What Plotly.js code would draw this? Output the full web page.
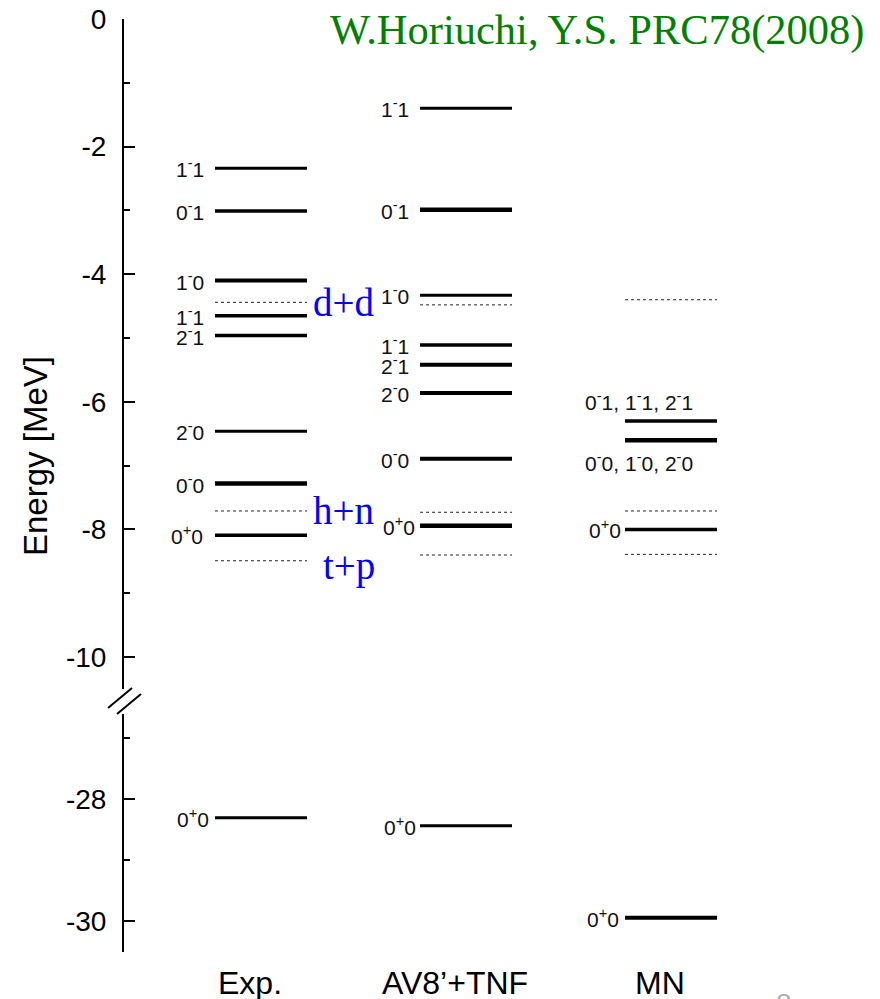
<!DOCTYPE html>
<html>
<head>
<meta charset="utf-8">
<script src="https://cdn.plot.ly/plotly-3.0.1.min.js"></script>
<style>html,body{margin:0;padding:0;background:#fff}</style>
</head>
<body>
<div id="chart" style="width:880px;height:999px"></div>
<script>
// ---- 4He level scheme: energies in MeV ----
const columns = ['Exp.', 'AV8\u2019+TNF', 'MN'];

const expLabels   = ['1-1', '0-1', '1-0', '1-1', '2-1', '2-0', '0-0', '0+0'];
const expEnergies = [-2.34, -3.01, -4.10, -4.65, -4.96, -6.46, -7.28, -8.09];
const expGround   = -28.30;
const expThresholds = [-4.44, -7.71, -8.49];

const av8Labels   = ['1-1', '0-1', '1-0', '1-1', '2-1', '2-0', '0-0', '0+0'];
const av8Energies = [-1.40, -2.99, -4.33, -5.11, -5.42, -5.86, -6.89, -7.94];
const av8Ground   = -28.43;
const av8Thresholds = [-4.48, -7.73, -8.40];

const mnLabels   = ['0-1, 1-1, 2-1', '0-0, 1-0, 2-0', '0+0'];
const mnEnergies = [-6.30, -6.60, -8.00];
const mnGround   = -29.94;
const mnThresholds = [-4.40, -7.71, -8.39];

const groundLabel = '0+0';
const thresholdNames = ['d+d', 'h+n', 't+p'];

const upperTickVals = [0, -2, -4, -6, -8, -10];
const upperTickText = ['0', '-2', '-4', '-6', '-8', '-10'];
const lowerTickVals = [-28, -30];
const lowerTickText = ['-28', '-30'];

const citation = 'W.Horiuchi, Y.S. PRC78(2008)';
const yTitle = 'Energy [MeV]';
const pageNo = '8';

// ---- styles ----
const expWidths = [3, 3.5, 4, 3.5, 3.5, 3, 4.5, 3.5];
const av8Widths = [3, 4.5, 3, 3.5, 4, 4, 4, 4.5];
const mnWidths  = [3.5, 4.5, 3.5];
const groundWidths = [3, 3, 4];
// gap (px) between a level label and its line
const expGaps = [-9, -9, -9, -9, -9, -9, -9, -10];
const av8Gaps = [-9, -9, -9, -9, -9, -9, -9, -3];
const groundGaps = [-4, -2, -4];

const SANS = 'Liberation Sans, Arial, sans-serif';
const SERIF = 'Liberation Serif, Times New Roman, serif';

// ---- geometry (pixels) ----
const W = 880, H = 999;
const M = {l: 124, r: 0, t: 19, b: 47};
const plotW = W - M.l - M.r, plotH = H - M.t - M.b;
const colStep = 205;            // px between column centres
const firstCol = 261;           // px, centre of first column
const x0 = 1 - (firstCol - M.l) / colStep;
const xRange = [x0, x0 + plotW / colStep];
const halfW = 46 / colStep;     // half length of a level line
const upperTopPx = 19, upperBotPx = 689;
const lowerTopPx = 714, lowerBotPx = 952;
const py = p => (H - M.b - p) / plotH;   // pixel row -> paper y
const px = p => (p - M.l) / plotW;       // pixel col -> paper x

const fmt = s => s.replace(/(\d)([+-])(\d)/g, '$1<sup>$2</sup>$3');

const traces = [];
const annotations = [];

function level(col, e, w, yaxis) {
  traces.push({
    x: [col - halfW, col + halfW], y: [e, e],
    xaxis: 'x', yaxis: yaxis, mode: 'lines',
    line: {color: '#000', width: w},
    hoverinfo: 'skip', showlegend: false
  });
}
function threshold(col, e) {
  traces.push({
    x: [col - halfW, col + halfW], y: [e, e],
    xaxis: 'x', yaxis: 'y', mode: 'lines',
    line: {color: '#222', width: 1, dash: 'dot'},
    hoverinfo: 'skip', showlegend: false
  });
}
function label(col, e, text, yref, opts) {
  annotations.push(Object.assign({
    x: col - halfW, y: e, xref: 'x', yref: yref,
    text: fmt(text), showarrow: false,
    xanchor: 'right', yanchor: 'middle', xshift: -9,
    font: {family: SANS, size: 21, color: '#111'}
  }, opts || {}));
}

// Exp. column
expEnergies.forEach((e, i) => { level(1, e, expWidths[i], 'y'); label(1, e, expLabels[i], 'y', {xshift: expGaps[i]}); });
expThresholds.forEach(e => threshold(1, e));
level(1, expGround, groundWidths[0], 'y2'); label(1, expGround, groundLabel, 'y2', {xshift: groundGaps[0]});

// AV8'+TNF column
av8Energies.forEach((e, i) => { level(2, e, av8Widths[i], 'y'); label(2, e, av8Labels[i], 'y', {xshift: av8Gaps[i]}); });
av8Thresholds.forEach(e => threshold(2, e));
level(2, av8Ground, groundWidths[1], 'y2'); label(2, av8Ground, groundLabel, 'y2', {xshift: groundGaps[1]});

// MN column: the two negative-parity multiplets are labelled above / below their lines
const mnLabelPlace = [
  {xanchor: 'left', xshift: -42, yshift: 20},
  {xanchor: 'left', xshift: -42, yshift: -22},
  {xshift: -2}
];
mnEnergies.forEach((e, i) => { level(3, e, mnWidths[i], 'y'); label(3, e, mnLabels[i], 'y', mnLabelPlace[i]); });
mnThresholds.forEach(e => threshold(3, e));
level(3, mnGround, groundWidths[2], 'y2'); label(3, mnGround, groundLabel, 'y2', {xshift: groundGaps[2]});

// threshold channel names, next to the experimental thresholds
const chanShift = [[4, 0], [4, 0], [14, -5]];
thresholdNames.forEach((t, i) => {
  annotations.push({
    x: 1 + halfW, y: expThresholds[i], xref: 'x', yref: 'y',
    text: t, showarrow: false, xanchor: 'left', yanchor: 'middle',
    xshift: chanShift[i][0], yshift: chanShift[i][1],
    font: {family: SERIF, size: 39, color: '#0000ff'}
  });
});

// column names
columns.forEach((c, i) => {
  annotations.push({
    x: i + 1, y: py(983), xref: 'x', yref: 'paper', xshift: -11,
    text: c, showarrow: false, xanchor: 'center', yanchor: 'middle',
    font: {family: SANS, size: 32, color: '#000'}
  });
});

// axis title, citation, page number
annotations.push({
  x: px(35), y: py(456), xref: 'paper', yref: 'paper', text: yTitle,
  textangle: -90, showarrow: false, xanchor: 'center', yanchor: 'middle',
  font: {family: SANS, size: 33, color: '#000'}
});
annotations.push({
  x: px(866), y: py(30), xref: 'paper', yref: 'paper', text: citation,
  showarrow: false, xanchor: 'right', yanchor: 'middle',
  font: {family: SERIF, size: 42.5, color: '#008000'}
});
annotations.push({
  x: px(784), y: py(986), xref: 'paper', yref: 'paper', text: pageNo,
  showarrow: false, xanchor: 'center', yanchor: 'top',
  font: {family: SANS, size: 28, color: '#b0b0b0'}
});

// axis break marks
const brk = [[120, 698], [129, 704]];
const shapes = brk.map(([cx, cy]) => ({
  type: 'line', xref: 'paper', yref: 'paper',
  x0: px(cx - 12), y0: py(cy + 10), x1: px(cx + 12), y1: py(cy - 10),
  line: {color: '#000', width: 2}
}));

const axisCommon = {
  showgrid: false, zeroline: false, showline: true,
  linecolor: '#000', linewidth: 2,
  ticks: 'inside', ticklen: 11, tickwidth: 2, tickcolor: '#000',
  tickmode: 'array', ticklabelstandoff: 10,
  tickfont: {family: SANS, size: 28, color: '#000'},
  minor: {ticks: 'inside', ticklen: 6, tickwidth: 2, tickcolor: '#000', tickmode: 'linear', tick0: 0, dtick: 1},
  fixedrange: true, anchor: 'x'
};

const layout = {
  width: W, height: H,
  margin: M,
  paper_bgcolor: '#fff', plot_bgcolor: '#fff',
  showlegend: false,
  xaxis: {range: xRange, visible: false, fixedrange: true, anchor: 'y'},
  yaxis: Object.assign({}, axisCommon, {
    domain: [py(upperBotPx), py(upperTopPx)],
    range: [-(upperBotPx - upperTopPx) / 63.81, 0],
    tickvals: upperTickVals, ticktext: upperTickText
  }),
  yaxis2: Object.assign({}, axisCommon, {
    domain: [py(lowerBotPx), py(lowerTopPx)],
    range: [-30.5, -30.5 + (lowerBotPx - lowerTopPx) / 61.03],
    tickvals: lowerTickVals, ticktext: lowerTickText
  }),
  annotations: annotations,
  shapes: shapes
};

Plotly.newPlot('chart', traces, layout, {staticPlot: true, displayModeBar: false});
</script>
</body>
</html>
